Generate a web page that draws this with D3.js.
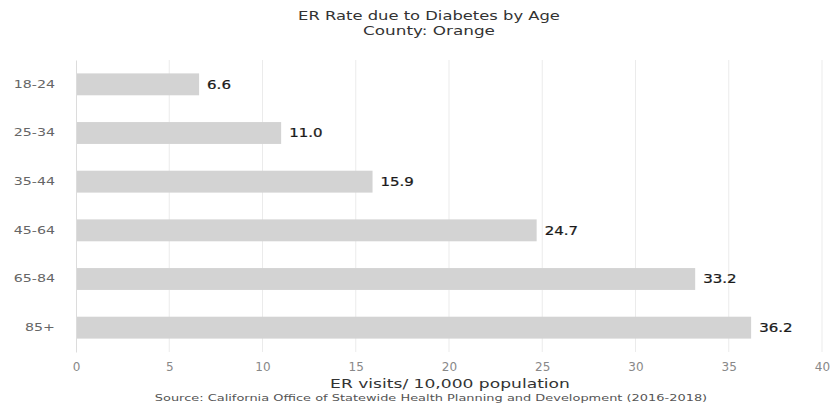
<!DOCTYPE html>
<html><head><meta charset="utf-8">
<script src="https://cdn.jsdelivr.net/npm/d3@7"></script>
<style>body{margin:0;background:#fff}svg{display:block}text{font-family:"DejaVu Sans",sans-serif}</style>
</head><body><svg id="c" width="833" height="411"></svg>
<script>
const categories = ["18-24","25-34","35-44","45-64","65-84","85+"];
const values = [6.6, 11.0, 15.9, 24.7, 33.2, 36.2];
const xTicks = [0,5,10,15,20,25,30,35,40];
const title1 = "ER Rate due to Diabetes by Age";
const title2 = "County: Orange";
const xTitle = "ER visits/ 10,000 population";
const source = "Source: California Office of Statewide Health Planning and Development (2016-2018)";

const svg = d3.select("#c");
const m = {left:76, right:11, top:60, bottom:352};
const W = 833;
const x = d3.scaleLinear().domain([0,40]).range([m.left, W - m.right]);
const y = d3.scaleBand().domain(categories).range([m.top, m.bottom]).paddingInner(0.55).paddingOuter(0.275);

// stretch text horizontally around its anchor x
function stretchBy(sel, f) {
  sel.each(function(){
    const ax = +this.getAttribute("x") || 0;
    const ay = 0;
    this.setAttribute("transform", (this.getAttribute("transform")||"") + ` translate(${ax},${ay}) scale(${f},1) translate(${-ax},${-ay})`);
  });
}
function stretchTo(sel, target) {
  sel.each(function(){
    const w = this.getComputedTextLength();
    stretchBy(d3.select(this), target / w);
  });
}

svg.append("g").selectAll("line").data(xTicks.slice(1)).join("line")
  .attr("x1", d=>x(d)).attr("x2", d=>x(d)).attr("y1", m.top).attr("y2", m.bottom)
  .attr("stroke", "#ebebeb").attr("stroke-width", 1);

svg.append("g").selectAll("rect").data(values).join("rect")
  .attr("x", x(0)+1).attr("y", (d,i)=>y(categories[i]))
  .attr("width", d=>x(d)-x(0)-1).attr("height", y.bandwidth())
  .attr("fill", "#d3d3d3");

const vl = svg.append("g").selectAll("text").data(values).join("text")
  .attr("x", d=>x(d)+8).attr("y", (d,i)=>y(categories[i])+y.bandwidth()/2)
  .attr("dy", "0.36em").attr("font-size", 12.5).attr("fill", "#1a1a1a")
  .attr("stroke", "#1a1a1a").attr("stroke-width", 0.25)
  .text(d=>d.toFixed(1));
stretchBy(vl, 1.2);

const ya = svg.append("g").attr("transform", `translate(${m.left},0)`)
  .call(d3.axisLeft(y).tickSize(0).tickPadding(21));
ya.select(".domain").attr("stroke", "#dcdcdc");
const yl = ya.selectAll("text").attr("font-size", 10).attr("fill", "#666").attr("font-family","DejaVu Sans");
stretchBy(yl, 1.42);

const xa = svg.append("g").attr("transform", `translate(0,${m.bottom})`)
  .call(d3.axisBottom(x).tickValues(xTicks).tickSize(0).tickPadding(10));
xa.select(".domain").remove();
xa.selectAll("text").attr("font-size", 12).attr("fill", "#888").attr("font-family","DejaVu Sans");

const t1 = svg.append("text").attr("x", 429).attr("y", 20).attr("text-anchor","middle")
  .attr("font-size", 12.5).attr("fill","#333").text(title1);
stretchTo(t1, 262);
const t2 = svg.append("text").attr("x", 429).attr("y", 35).attr("text-anchor","middle")
  .attr("font-size", 12.5).attr("fill","#333").text(title2);
stretchTo(t2, 132);
const xt = svg.append("text").attr("x", 450).attr("y", 388).attr("text-anchor","middle")
  .attr("font-size", 13).attr("fill","#333").text(xTitle);
stretchTo(xt, 240);
const st = svg.append("text").attr("x", 431).attr("y", 401).attr("text-anchor","middle")
  .attr("font-size", 9).attr("fill","#555").text(source);
stretchTo(st, 553);
</script></body></html>
